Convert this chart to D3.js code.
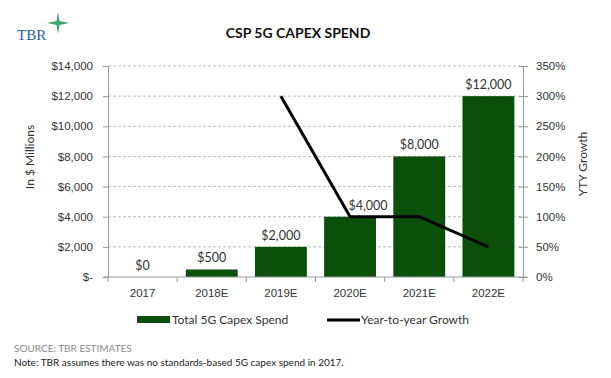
<!DOCTYPE html>
<html>
<head>
<meta charset="utf-8">
<script src="https://cdn.jsdelivr.net/npm/d3@7"></script>
<style>
body { margin: 0; background: #fff; }
svg { font-family: Lato, "Open Sans", sans-serif; }
.tick text { font-size: 11.5px; fill: #333; }
</style>
</head>
<body>
<svg id="chart" width="611" height="378"></svg>
<script>
var years = ["2017", "2018E", "2019E", "2020E", "2021E", "2022E"]
var spend = [0, 500, 2000, 4000, 8000, 12000]
var spendLabels = ["$0", "$500", "$2,000", "$4,000", "$8,000", "$12,000"]
var growthYears = ["2019E", "2020E", "2021E", "2022E"]
var growth = [3.0, 1.0, 1.0, 0.5]
var leftTicks = [0, 2000, 4000, 6000, 8000, 10000, 12000, 14000]
var rightTicks = [0, 0.5, 1, 1.5, 2, 2.5, 3, 3.5]

var svg = d3.select("#chart")
var plotL = 108, plotR = 523, plotT = 66, plotB = 277
var green = "#0a4f0a"

var x = d3.scaleBand().domain(years).range([plotL, plotR]).paddingInner(0.25).paddingOuter(0.125)
var y = d3.scaleLinear().domain([0, 14000]).range([plotB, plotT])
var y2 = d3.scaleLinear().domain([0, 3.5]).range([plotB, plotT])

// gridlines
svg.append("g")
    .selectAll("line.grid")
    .data(leftTicks.slice(1))
    .join("line")
    .classed("grid", true)
    .attr("x1", plotL).attr("x2", plotR)
    .attr("y1", d => y(d)).attr("y2", d => y(d))
    .style("stroke", "#bdbdbd")
    .style("stroke-dasharray", "3,2")
    .style("stroke-width", "1px")

// bars
svg.append("g")
    .selectAll("rect.bar")
    .data(spend)
    .join("rect")
    .classed("bar", true)
    .attr("x", (d, i) => x(years[i]))
    .attr("width", x.bandwidth())
    .attr("y", d => y(d))
    .attr("height", d => plotB - y(d))
    .style("fill", green)

// growth line
var line = d3.line()
    .x((d, i) => x(growthYears[i]) + x.bandwidth() / 2)
    .y(d => y2(d))

svg.append("path")
    .datum(growth)
    .attr("d", line)
    .style("fill", "none")
    .style("stroke", "#000")
    .style("stroke-width", "3px")

// value labels, the 2020E one nudged right to clear the line
svg.append("g")
    .selectAll("text.val")
    .data(spend)
    .join("text")
    .classed("val", true)
    .attr("x", (d, i) => x(years[i]) + x.bandwidth() / 2)
    .attr("dx", (d, i) => years[i] === "2020E" ? 18 : 0)
    .attr("y", d => y(d) - 7)
    .attr("text-anchor", "middle")
    .style("font-size", "12.5px")
    .style("fill", "#333")
    .text((d, i) => spendLabels[i])

// axes
var fmt = d => d === 0 ? "$-" : "$" + d3.format(",")(d)
var gl = svg.append("g")
    .attr("transform", "translate(" + plotL + ",0)")
    .call(d3.axisLeft(y).tickValues(leftTicks).tickFormat(fmt).tickSize(5).tickPadding(6))
gl.select(".domain").style("stroke", "#999")
gl.selectAll(".tick line").style("stroke", "#999")
gl.selectAll(".tick text").attr("dx", "-4")

var gr = svg.append("g")
    .attr("transform", "translate(" + plotR + ",0)")
    .call(d3.axisRight(y2).tickValues(rightTicks).tickFormat(d3.format(".0%")).tickSize(5).tickPadding(8))
gr.select(".domain").style("stroke", "#999")
gr.selectAll(".tick line").attr("x1", -4).style("stroke", "#999")

var gb = svg.append("g")
    .attr("transform", "translate(0," + plotB + ")")
    .call(d3.axisBottom(x).tickSize(0).tickPadding(12))
gb.select(".domain").attr("d", "M" + (plotL - 4) + ",0H" + (plotR + 4)).style("stroke", "#999")
gb.selectAll(".tick text").style("font-size", "11.5px")

// category separator ticks
var seps = d3.range(years.length + 1).map(i => plotL + i * (plotR - plotL) / years.length)
svg.append("g")
    .selectAll("line.sep")
    .data(seps)
    .join("line")
    .classed("sep", true)
    .attr("x1", d => d).attr("x2", d => d)
    .attr("y1", plotB).attr("y2", plotB + 5)
    .style("stroke", "#999")

// axis titles
svg.append("text")
    .attr("transform", "translate(34,157) rotate(-90)")
    .attr("text-anchor", "middle")
    .style("font-size", "12px")
    .style("fill", "#333")
    .text("In $ Millions")

svg.append("text")
    .attr("transform", "translate(587,164) rotate(-90)")
    .attr("text-anchor", "middle")
    .style("font-size", "12px")
    .style("fill", "#333")
    .text("YTY Growth")

// title
svg.append("text")
    .attr("x", 298).attr("y", 38)
    .attr("text-anchor", "middle")
    .style("font-size", "14px")
    .style("font-weight", "bold")
    .style("fill", "#111")
    .text("CSP 5G CAPEX SPEND")

// logo
svg.append("text")
    .attr("x", 17).attr("y", 40)
    .style("font-family", "'Liberation Serif', serif")
    .style("font-size", "15px")
    .style("fill", "#2a5a9a")
    .text("TBR")
svg.append("path")
    .attr("d", "M58,12 L59.5,21 L69,23 L59.5,25 L58,34 L56.5,25 L47,23 L56.5,21 Z")
    .style("fill", "#3fa56b")

// legend
svg.append("rect")
    .attr("x", 137).attr("y", 316).attr("width", 33).attr("height", 7)
    .style("fill", green)
svg.append("text")
    .attr("x", 172).attr("y", 324)
    .style("font-size", "12px")
    .style("fill", "#333")
    .text("Total 5G Capex Spend")
svg.append("line")
    .attr("x1", 327).attr("x2", 360).attr("y1", 320).attr("y2", 320)
    .style("stroke", "#000").style("stroke-width", "3px")
svg.append("text")
    .attr("x", 361).attr("y", 324)
    .style("font-size", "12px")
    .style("fill", "#333")
    .text("Year-to-year Growth")

// notes
svg.append("text")
    .attr("x", 14).attr("y", 352)
    .style("font-size", "10px")
    .style("fill", "#8a8a8a")
    .text("SOURCE: TBR ESTIMATES")
svg.append("text")
    .attr("x", 14).attr("y", 366)
    .style("font-size", "10px")
    .style("fill", "#222")
    .text("Note: TBR assumes there was no standards-based 5G capex spend in 2017.")
</script>
</body>
</html>
